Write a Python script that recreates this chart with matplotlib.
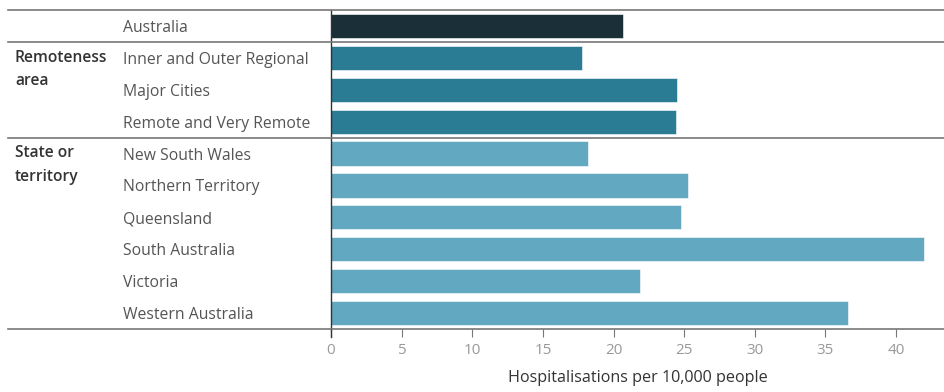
import matplotlib
matplotlib.use("Agg")
import matplotlib.pyplot as plt
from matplotlib.transforms import blended_transform_factory
from matplotlib.lines import Line2D

plt.rcParams['font.family'] = ['Open Sans', 'DejaVu Sans']

CATEGORIES = ["Australia",
              "Inner and Outer Regional", "Major Cities", "Remote and Very Remote",
              "New South Wales", "Northern Territory", "Queensland",
              "South Australia", "Victoria", "Western Australia"]
VALUES = [20.7, 17.75, 24.5, 24.4, 18.2, 25.3, 24.8, 42.0, 21.9, 36.6]
GROUPS = ["", "Remoteness\narea", "", "", "State or\nterritory", "", "", "", "", ""]
COLORS = ["#1b2f38"] + ["#2a7b94"] * 3 + ["#62a8c0"] * 6
X_TICKS = [0, 5, 10, 15, 20, 25, 30, 35, 40]
X_LABEL = "Hospitalisations per 10,000 people"
SEPARATORS = [-0.5, 0.5, 3.5, 9.5]

W, H = 944, 392
fig = plt.figure(figsize=(W / 100, H / 100), dpi=100)
ax = fig.add_axes([331 / W, 1 - 329 / H, 1 - 331 / W, (329 - 10) / H])

y = list(range(len(CATEGORIES)))
ax.barh(y, VALUES, height=0.76, color=COLORS, edgecolor="white", linewidth=0.4)

ax.set_ylim(9.5, -0.5)
ax.set_xlim(0, (W - 331) / ((896 - 331) / 40))
ax.set_yticks([])
ax.set_xticks(X_TICKS)
ax.set_xticklabels([str(t) for t in X_TICKS], color="#999999", fontsize=11)
ax.tick_params(axis="x", length=6, width=0.8, color="#777777", pad=4)
ax.set_xlabel(X_LABEL, fontsize=11.6, color="#333333", labelpad=9)

for s in ["top", "right", "bottom"]:
    ax.spines[s].set_visible(False)
ax.spines["left"].set_color("#333333")
ax.spines["left"].set_linewidth(1.0)
ax.spines["left"].set_bounds(-0.5, 9.5)
ax.add_line(Line2D([0, 0], [9.5, 9.75], color="#333333", lw=1.0, clip_on=False))

# separator lines across the whole width
tr_sep = blended_transform_factory(fig.transFigure, ax.transData)
for s in SEPARATORS:
    fig.add_artist(Line2D([8 / W, 1], [s, s], transform=tr_sep,
                          color="#777777", lw=1.2, clip_on=False))

for i, (cat, grp) in enumerate(zip(CATEGORIES, GROUPS)):
    ax.text(123 / W, i, cat, transform=tr_sep, ha="left", va="center_baseline",
            fontsize=11.3, color="#555555")
    if grp:
        ax.text(15 / W, i - 0.26, grp, transform=tr_sep, ha="left", va="top",
                fontsize=11.2, color="#333333", fontweight="semibold",
                linespacing=1.65)

fig.savefig("out.png", dpi=100)
